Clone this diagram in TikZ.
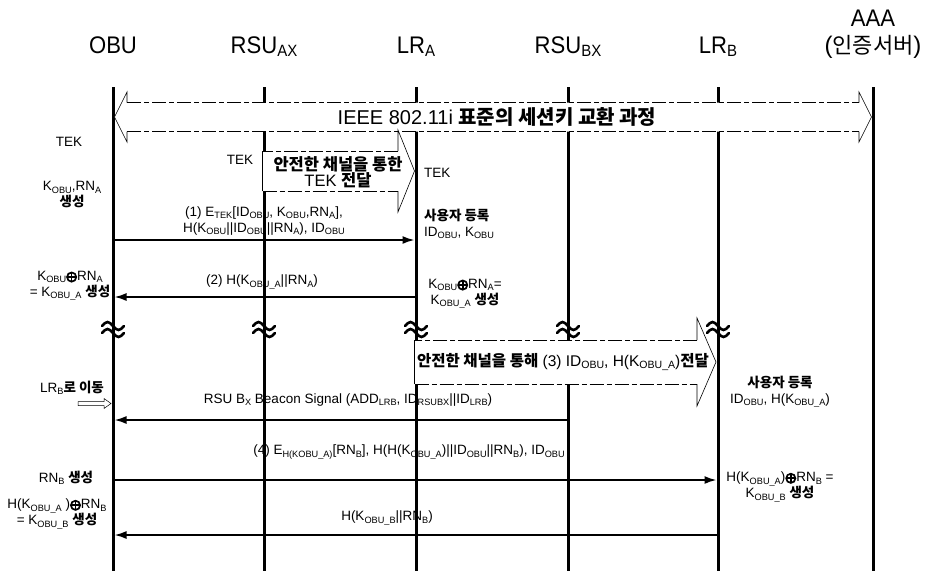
\documentclass[tikz,border=0pt]{standalone}
\usepackage{fontspec}
\setmainfont{Liberation Sans}
\newfontfamily\krfont{Noto Sans CJK KR}
\usetikzlibrary{arrows.meta}
\newcommand{\lo}[1]{\raisebox{-0.3ex}{\scalebox{0.68}{#1}}}
\newcommand{\xo}{\tikz[baseline=-3.6pt,x=1pt,y=1pt]{\draw[line width=1.7pt] (0,0) circle (4.6pt); \draw[line width=1.7pt] (-4.6,0) -- (4.6,0) (0,-4.6) -- (0,4.6);}}
\newcommand{\kt}[1]{{\krfont\bfseries #1}}
\newcommand{\kn}[1]{{\krfont #1}}
\tikzset{
  life/.style={line width=3pt},
  msg/.style={line width=1.8pt,-{Latex[length=12pt,width=8pt]}},
  lbl/.style={font=\fontsize{13.5}{16}\selectfont, inner sep=0pt, align=center},
  hdr/.style={font=\fontsize{24}{26}\selectfont, inner sep=0pt, anchor=base},
  blkfill/.style={fill=white},
  blkedge/.style={draw=black, line width=0.7pt, dash pattern=on 14pt off 3pt on 5pt off 3pt},
  blkhead/.style={draw=black, line width=0.6pt},
  btext/.style={inner sep=0pt, align=center},
  wave/.style={line width=2.6pt, line cap=round}
}
\begin{document}
\begin{tikzpicture}[x=1pt,y=-1pt]
\useasboundingbox (0,0) rectangle (931,570);
% headers
\node[hdr] (hobu) at (113,53) {\scalebox{0.92}[1]{OBU}};
\node[hdr] (hrsua) at (264,53) {\scalebox{0.92}[1]{RSU\lo{AX}}};
\node[hdr] (hlra) at (416,53) {\scalebox{0.92}[1]{LR\lo{A}}};
\node[hdr] (hrsub) at (568,53) {\scalebox{0.92}[1]{RSU\lo{BX}}};
\node[hdr] (hlrb) at (718,53) {\scalebox{0.92}[1]{LR\lo{B}}};
\node[hdr] (haaa) at (873,27) {\scalebox{0.92}[1]{AAA}};
\node[hdr] (hauth) at (873,53) {(\kn{\fontsize{22}{24}\selectfont 인증서버})};
% lifelines
\foreach \n/\x in {obu/113,rsua/264,lra/416,rsub/568,lrb/718,aaa/873}{
  \coordinate (\n t) at (\x,87);
  \coordinate (\n b) at (\x,572);
  \draw[life] (\n t) -- (\n b);
}
% break marks
\foreach \x in {113,264,416,568,718}{
  \draw[wave] (\x-11,326) sin (\x-5.5,322) cos (\x,326) sin (\x+5.5,330) cos (\x+11,326);
  \draw[wave] (\x-11,333) sin (\x-5.5,329) cos (\x,333) sin (\x+5.5,337) cos (\x+11,333);
}
% block arrow 1 (IEEE)
\fill[blkfill] (114.5,117) -- (127,92) -- (127,102.5) -- (859,102.5) -- (859,92) -- (871.5,117)
  -- (859,142) -- (859,131.5) -- (127,131.5) -- (127,142) -- cycle;
\draw[blkedge] (127,102.5) -- (859,102.5) (127,131.5) -- (859,131.5);
\draw[blkhead] (127,102.5) -- (127,92) -- (114.5,117) -- (127,142) -- (127,131.5)
  (859,102.5) -- (859,92) -- (871.5,117) -- (859,142) -- (859,131.5);
\node[btext] (b1) at (497,117) {\fontsize{20}{22}\selectfont IEEE 802.11i \kt{표준의 세션키 교환 과정}};
% block arrow 2
\fill[blkfill] (262.5,151) -- (398,151) -- (398,130) -- (414.5,171) -- (398,212) -- (398,191) -- (262.5,191) -- cycle;
\draw[blkedge] (398,151) -- (262.5,151) (262.5,191) -- (398,191);
\draw[blkhead] (262.5,151) -- (262.5,191);
\draw[blkhead] (398,151) -- (398,130) -- (414.5,171) -- (398,212) -- (398,191);
\node[btext] (b2) at (338,172) {\fontsize{16.5}{19}\selectfont \kt{안전한 채널을 통한}\\\fontsize{16.5}{19}\selectfont TEK \kt{전달}};
% block arrow 3
\fill[blkfill] (414.5,340) -- (697,340) -- (697,318) -- (716,362) -- (697,406) -- (697,384) -- (414.5,384) -- cycle;
\draw[blkedge] (697,340) -- (414.5,340) (414.5,384) -- (697,384);
\draw[blkhead] (414.5,340) -- (414.5,384);
\draw[blkhead] (697,340) -- (697,318) -- (716,362) -- (697,406) -- (697,384);
\node[btext] (b3) at (563,362) {\fontsize{15.5}{18}\selectfont \kt{안전한 채널을 통해} (3) ID\lo{OBU}, H(K\lo{OBU\_A})\kt{전달}};
% message coordinates
\coordinate (m1s) at (114.5,240); \coordinate (m1e) at (414.5,240);
\coordinate (m2s) at (414.5,297); \coordinate (m2e) at (114.5,297);
\coordinate (m3s) at (566.5,420); \coordinate (m3e) at (114.5,420);
\coordinate (m4s) at (114.5,480); \coordinate (m4e) at (716.5,480);
\coordinate (m5s) at (716.5,535); \coordinate (m5e) at (114.5,535);
\draw[msg] (m1s) -- (m1e);
\draw[msg] (m2s) -- (m2e);
\draw[msg] (m3s) -- (m3e);
\draw[msg] (m4s) -- (m4e);
\draw[msg] (m5s) -- (m5e);
% message labels
\node[lbl] (l1) at (264,221) {(1) E\lo{TEK}[ID\lo{OBU}, K\lo{OBU},RN\lo{A}],\\H(K\lo{OBU}||ID\lo{OBU}||RN\lo{A}), ID\lo{OBU}};
\node[lbl] (l2) at (262,282) {(2) H(K\lo{OBU\_A}||RN\lo{A})};
\node[lbl] (l3) at (348,400) {RSU B\lo{X} Beacon Signal (ADD\lo{LRB}, ID\lo{RSUBX}||ID\lo{LRB})};
\node[lbl] (l4) at (409,452) {(4) E\lo{H(KOBU\_A)}[RN\lo{B}], H(H(K\lo{OBU\_A})||ID\lo{OBU}||RN\lo{B}), ID\lo{OBU}};
\node[lbl] (l5) at (387,518) {H(K\lo{OBU\_B}||RN\lo{B})};
% side labels
\node[lbl] (tek1) at (69,142) {TEK};
\node[lbl] (tek2) at (240,160) {TEK};
\node[lbl,anchor=west] (tek3) at (424,173) {TEK};
\node[lbl] (gen1) at (72,195) {K\lo{OBU},RN\lo{A}\\\kt{생성}};
\node[lbl,anchor=west,align=left] (reg1) at (424,224) {\kt{사용자 등록}\\ID\lo{OBU}, K\lo{OBU}};
\node[lbl] (gen2) at (70,286) {K\lo{OBU}\xo RN\lo{A}\\= K\lo{OBU\_A} \kt{생성}};
\node[lbl] (gen3) at (465,294) {K\lo{OBU}\xo RN\lo{A}=\\K\lo{OBU\_A} \kt{생성}};
\node[lbl] (move) at (72,388) {LR\lo{B}\kt{로 이동}};
\draw[line width=0.5pt] (78,401.5) -- (104,401.5) -- (104,398.5) -- (111,403.5) -- (104,408.5) -- (104,405.5) -- (78,405.5) -- cycle;
\node[lbl] (reg2) at (780,392) {\kt{사용자 등록}\\ID\lo{OBU}, H(K\lo{OBU\_A})};
\node[lbl] (gen4) at (66,478) {RN\lo{B} \kt{생성}};
\node[lbl] (gen5) at (780,487) {H(K\lo{OBU\_A})\xo RN\lo{B} =\\K\lo{OBU\_B} \kt{생성}};
\node[lbl] (gen6) at (57,514) {H(K\lo{OBU\_A} )\xo RN\lo{B}\\= K\lo{OBU\_B} \kt{생성}};
\end{tikzpicture}
\end{document}
